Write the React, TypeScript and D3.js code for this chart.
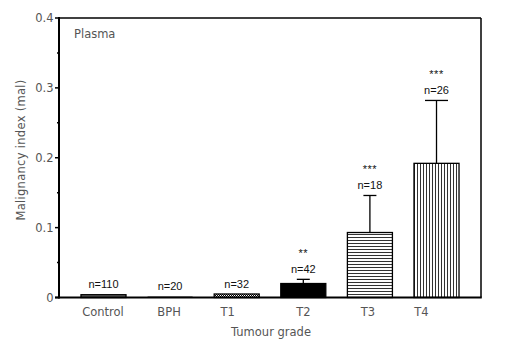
import React from "react";
import * as d3 from "d3";

const categories = ["Control", "BPH", "T1", "T2", "T3", "T4"];
const means = [0.004, 0.001, 0.005, 0.02, 0.093, 0.192];
const errors = [0, 0, 0, 0.006, 0.053, 0.09];
const nLabels = ["n=110", "n=20", "n=32", "n=42", "n=18", "n=26"];
const stars = ["", "", "", "**", "***", "***"];
const yTicks = [0, 0.1, 0.2, 0.3, 0.4];
const yMinor = [0.05, 0.15, 0.25, 0.35];

// style / layout constants
const fills = ["#6a6a6a", "#888", "url(#dots)", "#000", "url(#hlines)", "url(#vlines)"];
const capW = [0, 0, 0, 13, 13, 23];
const labelDx = [-0.5, -1, -9, 0, -2, -15];

const W = 509, H = 353;
const L = 59, R = 481, T = 18, B = 297.5;
const grey = "#555";
const sans = "'DejaVu Sans', sans-serif";
const arial = "'Liberation Sans', Arial, sans-serif";
const fs = 11.5;

export default function App() {
  const x = d3.scaleBand().domain(categories).range([L, R]).paddingInner(0.324).paddingOuter(0.33);
  const y = d3.scaleLinear().domain([0, 0.4]).range([B, T]);
  const bw = x.bandwidth();
  return (
    <svg width={W} height={H} style={{ position: "absolute", left: 0, top: 0, background: "#fff" }}>
      <defs>
        <pattern id="dots" width="2" height="2" patternUnits="userSpaceOnUse">
          <rect width="2" height="2" fill="#fff" />
          <rect width="1" height="1" fill="#000" />
          <rect x="1" y="1" width="1" height="1" fill="#000" />
        </pattern>
        <pattern id="hlines" width="3" height="3" patternUnits="userSpaceOnUse">
          <rect width="3" height="3" fill="#fff" />
          <rect y="0" width="3" height="1" fill="#333" />
        </pattern>
        <pattern id="vlines" width="3" height="3" patternUnits="userSpaceOnUse">
          <rect width="3" height="3" fill="#fff" />
          <rect x="0" width="1" height="3" fill="#333" />
        </pattern>
      </defs>
      {categories.map((c, i) => {
        const x0 = x(c)!;
        const top = y(means[i]);
        const cx = x0 + bw / 2;
        const errTop = y(means[i] + errors[i]);
        const labTop = errors[i] > 0 ? errTop : top;
        const nCenter = labTop - 10.5;
        return (
          <g key={c}>
            {i === 1 ? (
              <line x1={x0} x2={x0 + bw} y1={top} y2={top} stroke="#777" strokeWidth={1.2} />
            ) : (
              <rect x={x0} y={top} width={bw} height={B - top} fill={fills[i]} stroke="#000" strokeWidth={1.3} />
            )}
            {errors[i] > 0 && (
              <g stroke="#000" strokeWidth={1.3}>
                <line x1={cx} x2={cx} y1={top} y2={errTop} />
                <line x1={cx - capW[i] / 2} x2={cx + capW[i] / 2} y1={errTop} y2={errTop} />
              </g>
            )}
            <text x={cx} y={nCenter + 4} textAnchor="middle" fontFamily={arial} fontSize={11} fill="#111">
              {nLabels[i]}
            </text>
            {stars[i] && (
              <text x={cx} y={nCenter - 17.5 + 6} textAnchor="middle" fontFamily={arial} fontSize={11} fill="#111" letterSpacing={0.5}>
                {stars[i]}
              </text>
            )}
            <text x={cx + labelDx[i]} y={316} textAnchor="middle" fontFamily={sans} fontSize={fs} fill={grey}>
              {c}
            </text>
          </g>
        );
      })}
      <g stroke="#000" fill="none">
        <line x1={L} x2={R} y1={T} y2={T} strokeWidth={1.5} />
        <line x1={R} x2={R} y1={T} y2={B} strokeWidth={1.5} />
        <line x1={L} x2={L} y1={T - 1} y2={B + 1} strokeWidth={2} />
        <line x1={L - 4} x2={R + 0.75} y1={B} y2={B} strokeWidth={2} />
        {yTicks.map((t) => (
          <line key={t} x1={L - 4} x2={L} y1={y(t)} y2={y(t)} strokeWidth={1.5} />
        ))}
        {yMinor.map((t) => (
          <line key={t} x1={L - 2} x2={L} y1={y(t)} y2={y(t)} strokeWidth={1.5} />
        ))}
      </g>
      {yTicks.map((t) => (
        <text key={t} x={L - 5.5} y={y(t) + 4} textAnchor="end" fontFamily={sans} fontSize={fs} fill={grey}>
          {t === 0 ? "0" : d3.format(".1f")(t)}
        </text>
      ))}
      <text x={74} y={37.5} fontFamily={sans} fontSize={fs} fill={grey}>Plasma</text>
      <text x={271} y={336} textAnchor="middle" fontFamily={sans} fontSize={fs} fill={grey}>Tumour grade</text>
      <text transform="translate(25,150) rotate(-90)" textAnchor="middle" fontFamily={sans} fontSize={fs} fill={grey} letterSpacing={0.3}>
        Malignancy index (mal)
      </text>
    </svg>
  );
}
